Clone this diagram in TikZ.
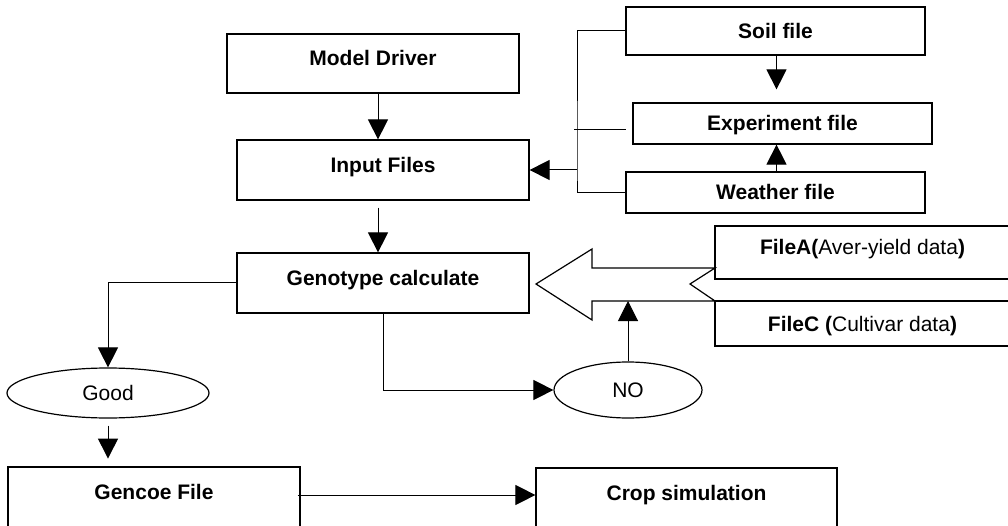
\documentclass[tikz,border=0pt]{standalone}
\usepackage{fontspec}
\setmainfont{Liberation Sans}
\usetikzlibrary{arrows.meta,shapes.geometric}

\begin{document}
\begin{tikzpicture}[x=1pt,y=-1pt,
  box/.style={draw,line width=1.2pt,inner sep=0pt,font=\fontsize{21}{25}\selectfont\bfseries,text height=15pt,text depth=0pt},
  tallbox/.style={box,text depth=10pt},
  oval/.style={draw,ellipse,line width=1.2pt,inner sep=0pt,font=\fontsize{21}{25}\selectfont},
  conn/.style={line width=1pt},
  arr/.style={conn,-{Triangle[length=20pt,width=20pt]}}]
\path[use as bounding box] (0,0) rectangle (1008,526);
\clip (0,0) rectangle (1008,526);
\draw[line width=1.2pt] (536,284) -- (592,249) -- (592,268) -- (715,268) -- (690,284) -- (715,301) -- (592,301) -- (592,320) -- cycle;
\coordinate (shaft) at (592,301);
\coordinate (bus) at (577,170);
\node[tallbox,minimum width=292pt,minimum height=59pt] (driver) at (373,63.5) {Model Driver};
\node[tallbox,minimum width=292pt,minimum height=60pt] (input) at (383,170) {Input Files};
\node[tallbox,minimum width=292pt,minimum height=60pt] (geno) at (383,283) {Genotype calculate};
\node[box,minimum width=299pt,minimum height=48pt] (soil) at (775.5,31) {Soil file};
\node[box,minimum width=299pt,minimum height=41pt] (exp) at (782.5,123.5) {Experiment file};
\node[box,minimum width=299pt,minimum height=41pt] (weather) at (775.5,192.5) {Weather file};
\node[tallbox,minimum width=295pt,minimum height=53pt] (filea) at (862.5,252.5) {FileA(\mdseries Aver-yield data\bfseries)};
\node[box,minimum width=295pt,minimum height=45pt] (filec) at (862.5,323.5) {FileC (\mdseries Cultivar data\bfseries)};
\node[oval,minimum width=202pt,minimum height=50pt] (good) at (108,393) {Good};
\node[oval,minimum width=148pt,minimum height=56pt] (no) at (628,390) {NO};
\node[tallbox,minimum width=292pt,minimum height=60pt] (gencoe) at (154,497) {Gencoe File};
\node[tallbox,minimum width=301pt,minimum height=60pt] (crop) at (686.5,498) {Crop simulation};
\draw[arr] ([xshift=5pt]driver.south) -- ([xshift=5pt]driver.south |- input.north);
\draw[arr] ([xshift=-5pt,yshift=-7pt]input.south) -- ([xshift=-5pt]geno.north);
\draw[conn] (soil.west) -| (bus) |- (weather.west);
\draw[conn] ([xshift=-58pt,yshift=-6pt]exp.west) -- ([xshift=-6pt,yshift=-6pt]exp.west);
\draw[arr] (bus) -- (input.east);
\draw[arr] ([xshift=1pt]soil.south) -- ([xshift=1pt,yshift=13pt]soil.south |- exp.north);
\draw[arr] ([xshift=1pt]weather.north) -- ([xshift=1pt]weather.north |- exp.south);
\draw[arr] (geno.west) -| (good.north);
\draw[arr] (geno.south) |- (no.west);
\draw[arr] (no.north) -- (no.north |- shaft);
\draw[arr] ([yshift=-7pt]good.south) -- ([yshift=-40pt]good.south);
\draw[arr] ([xshift=-3pt,yshift=2pt]gencoe.east) -- ([yshift=2pt]gencoe.east -| crop.west);
\end{tikzpicture}
\end{document}
